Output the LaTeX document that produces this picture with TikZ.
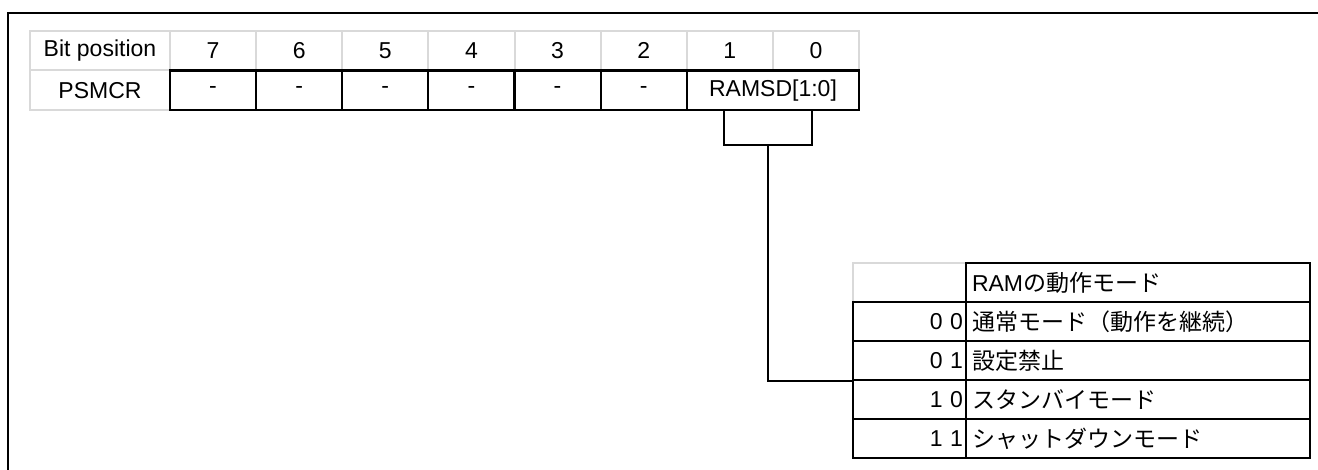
\documentclass[tikz,border=0pt]{standalone}
\usepackage{fontspec}
\setmainfont{Liberation Sans}
\newfontfamily\jp{Noto Sans CJK JP}
\definecolor{rulegray}{RGB}{217,217,217}

\begin{document}
\begin{tikzpicture}[x=1pt,y=-1pt,
  every node/.style={font=\fontsize{23}{27}\selectfont, inner sep=0pt},
  cw/.style={minimum width=#1},
  rh/.style={minimum height=#1},
  gcell/.style={rectangle, draw=rulegray, line width=2pt},
  bcell/.style={rectangle, draw=black, line width=2.2pt},
  codecell/.style={text width=107pt, inner xsep=3pt, align=right, cw=113pt, rh=39pt},
  desccell/.style={text width=332pt, inner xsep=6pt, align=left, cw=344pt, rh=39pt},
  frameline/.style={line width=2.4pt, draw=black},
  wire/.style={line width=1.8pt, draw=black}
]
\useasboundingbox (0,0) rectangle (1318,470);

% outer frame (top and left edges)
\draw[frameline] (8,470) -- (8,13) -- (1318,13);

% ---- register layout: bit numbers ----
\node[gcell, cw=140pt, rh=39.5pt] (bitlbl) at (100,50.75) {Bit position};
\foreach \b [count=\i from 0] in {7,6,5,4,3,2,1,0}
  \node[gcell, cw=86.125pt, rh=39.5pt] (b\b) at ({170+86.125*\i+43.0625},50.75) {\b};

% ---- register layout: field names ----
\node[gcell, cw=140pt, rh=39.5pt] (reg) at (100,90.25) {PSMCR};
\foreach \b [count=\i from 0] in {7,6,5,4,3,2}
  \node[bcell, cw=86.125pt, rh=39.5pt] (f\b) at ({170+86.125*\i+43.0625},90.25) {-};
\node[bcell, cw=172.25pt, rh=39.5pt] (ramsd) at (773,90.25) {RAMSD[1:0]};

% ---- RAMSD value table ----
\node[gcell, cw=113pt, rh=39pt] (corner) at (909.5,282.5) {};
\node[bcell, desccell] (head) at (1138,282.5) {RAM{\jp の動作モード}};
\node[bcell, codecell] (n00) at (909.5,321.5) {0 0};
\node[bcell, desccell] (d00) at (1138,321.5) {\jp 通常モード（動作を継続）};
\node[bcell, codecell] (n01) at (909.5,360.5) {0 1};
\node[bcell, desccell] (d01) at (1138,360.5) {\jp 設定禁止};
\node[bcell, codecell] (n10) at (909.5,399.5) {1 0};
\node[bcell, desccell] (d10) at (1138,399.5) {\jp スタンバイモード};
\node[bcell, codecell] (n11) at (909.5,438.5) {1 1};
\node[bcell, desccell] (d11) at (1138,438.5) {\jp シャットダウンモード};

% ---- bracket from the field down to the table ----
\coordinate (brk) at (768,145);
\draw[wire] ([xshift=-49pt]ramsd.south) |- (brk) -| ([xshift=39pt]ramsd.south);
\draw[wire] (brk) |- (n01.south west);
\end{tikzpicture}
\end{document}
